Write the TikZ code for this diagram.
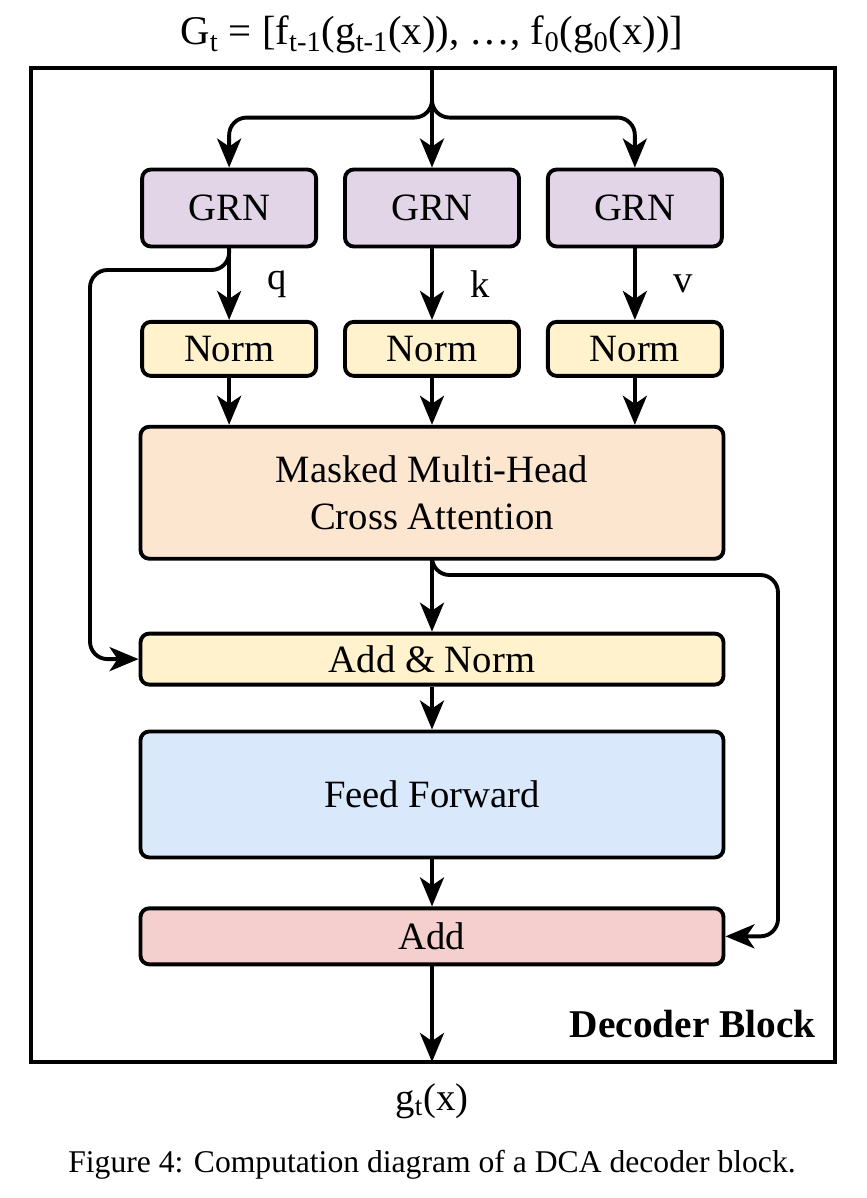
\documentclass[tikz,border=0pt]{standalone}
\usepackage{fontspec}
\setmainfont{Liberation Serif}
\usetikzlibrary{positioning,arrows.meta,calc}
\usepackage{xcolor}
\definecolor{GrnPurple}{HTML}{E1D5E7}
\definecolor{NormYellow}{HTML}{FFF2CC}
\definecolor{AttnOrange}{HTML}{FDE6D0}
\definecolor{FfBlue}{HTML}{DAE8FC}
\definecolor{AddRed}{HTML}{F4CFCD}

\begin{document}
\begin{tikzpicture}[
				node distance=0.5cm,
				blk/.style={
					draw=black,
					line width=2.2pt,
					rounded corners=5pt,
					align=center,
					inner sep=2pt,
					font=\fontsize{22}{27}\selectfont
				},
				smallblk/.style={
					blk,
					minimum width=3.48cm
				},
				wideblk/.style={
					blk,
					minimum width=11.66cm
				},
				arr/.style={
					-{Stealth[length=0.58cm,width=0.48cm,inset=0.16cm]},
					line width=2.2pt,
					rounded corners=0.35cm
				},
				lbl/.style={
					font=\fontsize{22}{27}\selectfont
				}
				]
				
				\useasboundingbox (0,0) rectangle (17.32,-23.96);
				
				% outer frame
				\draw[line width=2.2pt] (0.62,-1.36) rectangle (16.70,-21.24);
				\coordinate (top) at (8.64,-1.36);
				\coordinate (bottom) at (8.64,-21.24);
				
				\node[lbl, font=\fontsize{23.2}{28}\selectfont] (gin) at (8.64,-0.70) {G\textsubscript{t} = [f\textsubscript{t-1}(g\textsubscript{t-1}(x)), …, f\textsubscript{0}(g\textsubscript{0}(x))]};
				
				% GRN row
				\node[smallblk, fill=GrnPurple, minimum height=1.54cm] (grn2) at (8.64,-4.16) {GRN};
				\node[smallblk, fill=GrnPurple, minimum height=1.54cm, left=of grn2] (grn1) {GRN};
				\node[smallblk, fill=GrnPurple, minimum height=1.54cm, right=of grn2] (grn3) {GRN};
				
				% Norm row
				\node[smallblk, fill=NormYellow, minimum height=1.08cm, below=1.43cm of grn1] (norm1) {Norm};
				\node[smallblk, fill=NormYellow, minimum height=1.08cm, below=1.43cm of grn2] (norm2) {Norm};
				\node[smallblk, fill=NormYellow, minimum height=1.08cm, below=1.43cm of grn3] (norm3) {Norm};
				
				\node[wideblk, fill=AttnOrange, minimum height=2.64cm, below=0.94cm of norm2] (attn) {Masked Multi-Head\\Cross Attention};
				
				\node[wideblk, fill=NormYellow, minimum height=1.02cm, below=1.42cm of attn] (addnorm) {Add \& Norm};
				
				\node[wideblk, fill=FfBlue, minimum height=2.52cm, below=0.86cm of addnorm] (ff) {Feed Forward};
				
				\node[wideblk, fill=AddRed, minimum height=1.12cm, below=0.94cm of ff] (add) {Add};
				
				\node[lbl, font=\fontsize{22.4}{27}\selectfont\bfseries, anchor=east] (title) at (16.44,-20.48) {Decoder Block};
				
				\node[lbl] (gout) at (8.64,-22.02) {g\textsubscript{t}(x)};
				
				\node[lbl, font=\fontsize{18}{22}\selectfont] (caption) at (8.64,-23.30) {Figure 4: Computation diagram of a DCA decoder block.};
				
				% input fan-out
				\draw[arr] (top) -- (grn2);
				\draw[arr] (top) |- ([yshift=1cm]grn1.north) -- (grn1.north);
				\draw[arr] (top) |- ([yshift=1cm]grn3.north) -- (grn3.north);
				
				% q, k, v
				\draw[arr] (grn1) -- node[lbl, right=0.62cm] {q} (norm1);
				\draw[arr] (grn2) -- node[lbl, right=0.62cm] {k} (norm2);
				\draw[arr] (grn3) -- node[lbl, right=0.62cm] {v} (norm3);
				
				\draw[arr] (norm1) -- (norm1 |- attn.north);
				\draw[arr] (norm2) -- (attn);
				\draw[arr] (norm3) -- (norm3 |- attn.north);
				
				% residual paths
				\coordinate (lskip) at (1.80,-5.40);
				\coordinate (rskip) at (15.56,-11.50);
				\draw[arr] (grn1.south) |- (lskip) |- (addnorm.west);
				\draw[arr] (attn.south) |- (rskip) |- (add.east);
				
				\draw[arr] (attn) -- (addnorm);
				\draw[arr] (addnorm) -- (ff);
				\draw[arr] (ff) -- (add);
				\draw[arr] (add) -- (bottom);
				
			\end{tikzpicture}
\end{document}
